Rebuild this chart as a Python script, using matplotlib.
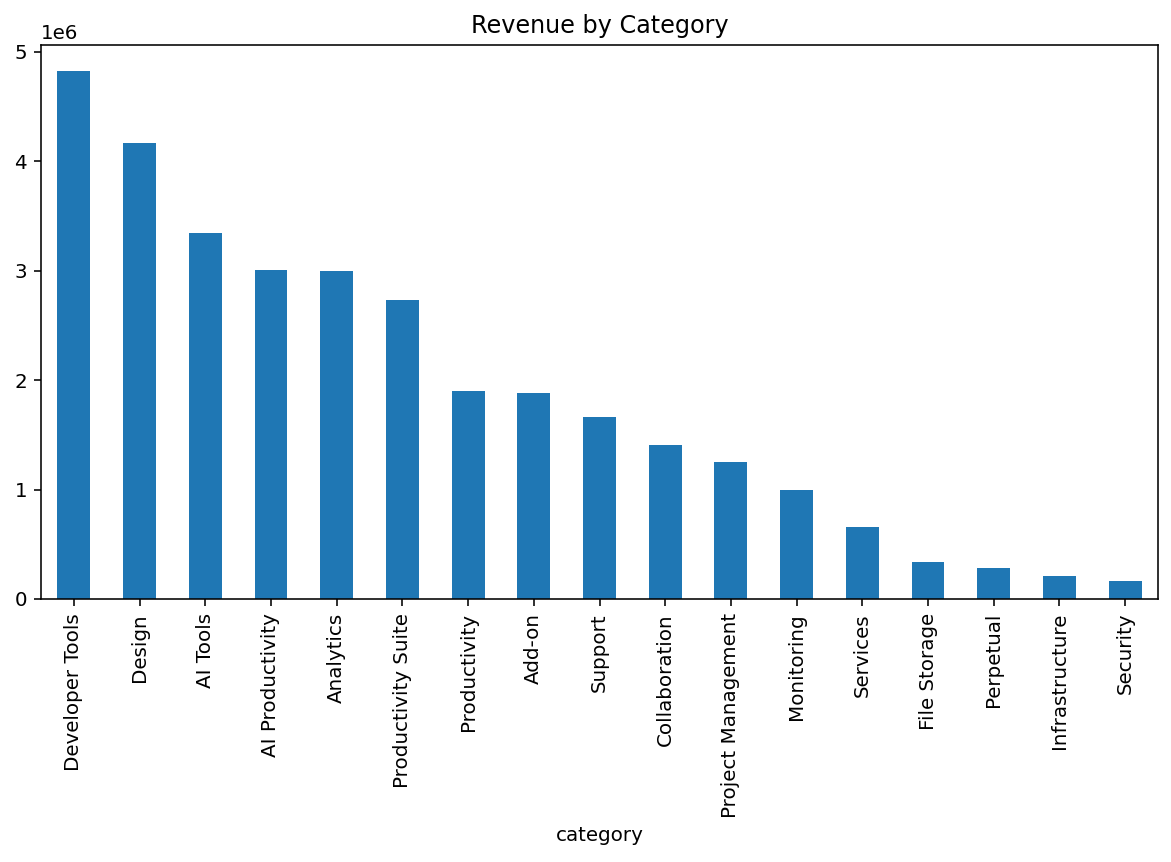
import matplotlib
matplotlib.use("Agg")
import matplotlib.pyplot as plt
import pandas as pd

categories = ["Developer Tools", "Design", "AI Tools", "AI Productivity", "Analytics",
              "Productivity Suite", "Productivity", "Add-on", "Support", "Collaboration",
              "Project Management", "Monitoring", "Services", "File Storage", "Perpetual",
              "Infrastructure", "Security"]
revenue = [4.82e6, 4.17e6, 3.34e6, 3.01e6, 3.00e6, 2.73e6, 1.90e6, 1.88e6, 1.66e6,
           1.41e6, 1.25e6, 0.995e6, 0.66e6, 0.34e6, 0.28e6, 0.21e6, 0.16e6]

s = pd.Series(revenue, index=pd.Index(categories, name="category"))

DPI = 143
fig = plt.figure(figsize=(1171/DPI, 862/DPI), dpi=DPI)
ax = fig.add_axes([41/1171, 1 - 599/862, (1158-41)/1171, (599-45)/862])
s.plot(kind="bar", ax=ax, color="#1f77b4")
ax.set_title("Revenue by Category")
ax.set_xlabel("category")
fig.savefig("out.png", dpi=DPI)
